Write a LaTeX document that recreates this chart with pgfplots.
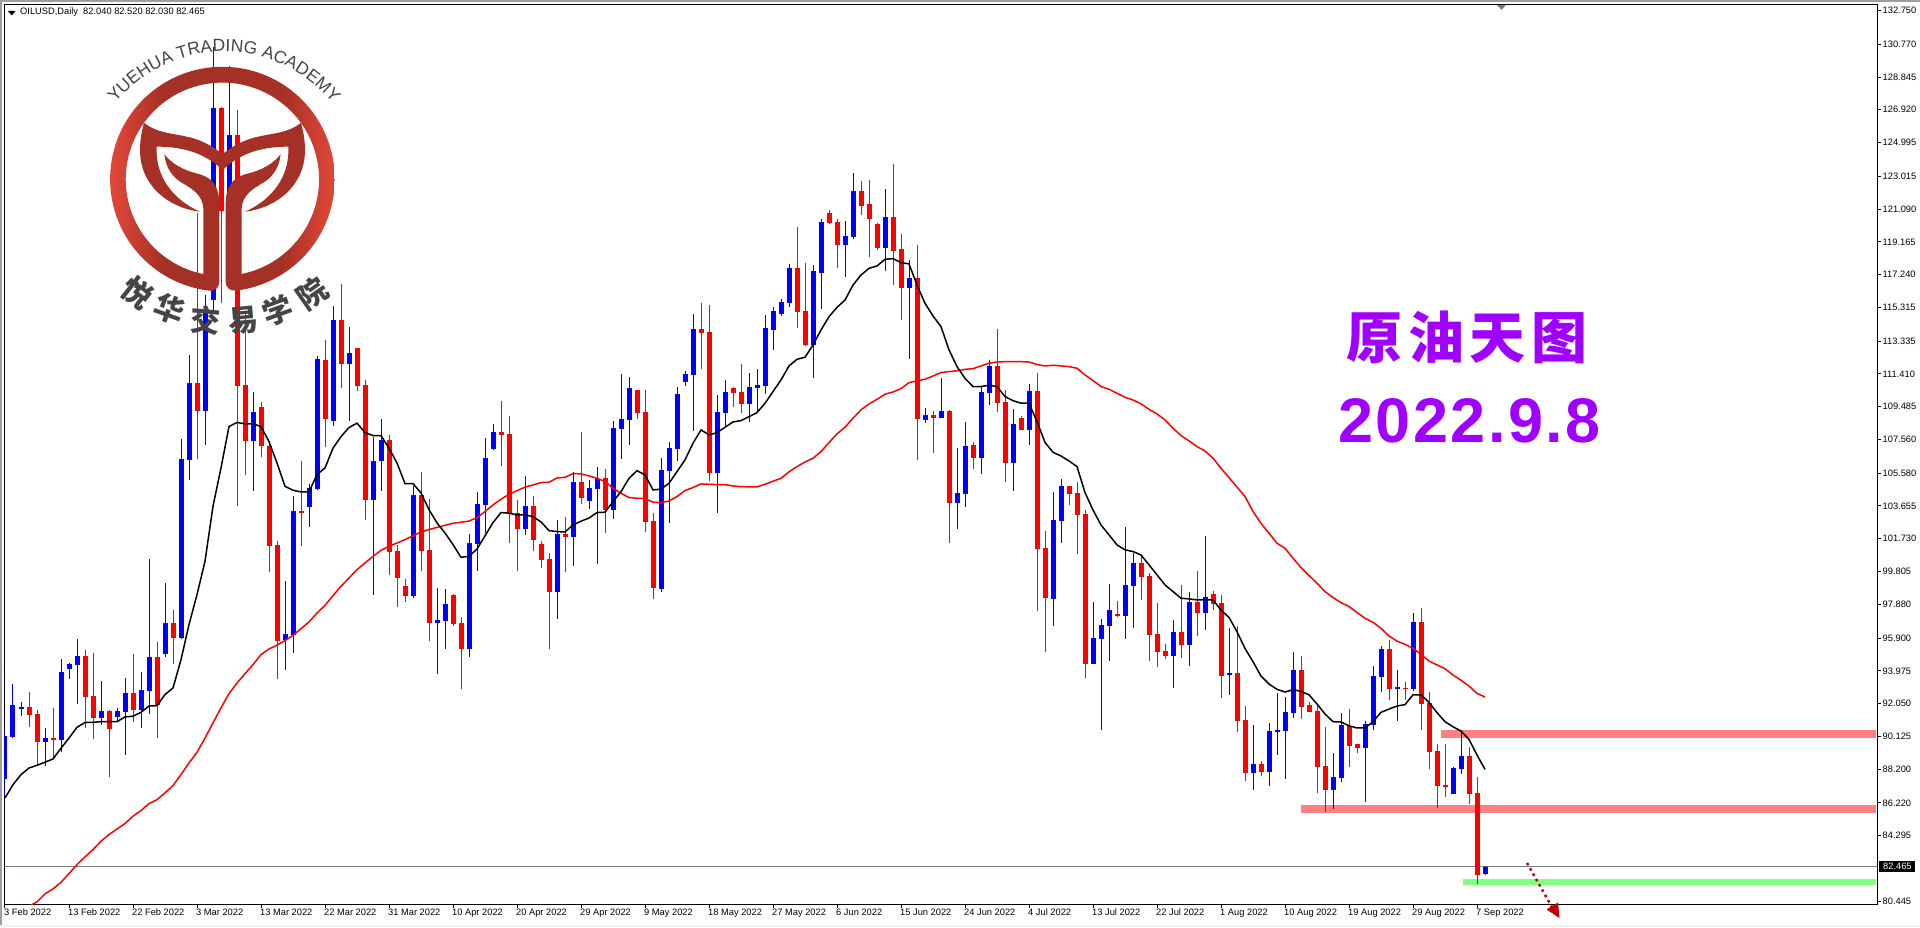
\documentclass[border=0pt]{standalone}
\usepackage{fontspec}
\usepackage{pgfplots}
\usepackage{pgfplotstable}
\pgfplotsset{compat=1.18}
\usetikzlibrary{decorations.text}
\setmainfont{Liberation Sans}
\newfontfamily\cjk{Noto Sans CJK SC}
\definecolor{candleblue}{HTML}{0000FF}
\definecolor{candlered}{HTML}{FF0000}
\definecolor{zonepink}{HTML}{FF8080}
\definecolor{zonegreen}{HTML}{80FF80}
\definecolor{priceline}{HTML}{708090}
\definecolor{titlepurple}{HTML}{A000FF}
\definecolor{logodark}{HTML}{A53025}
\definecolor{logolight}{HTML}{E2483A}
\definecolor{logotext}{HTML}{454545}
\definecolor{arrowred}{HTML}{C00000}
\pgfdeclarehorizontalshading{logoring}{100bp}{color(0bp)=(logolight); color(25bp)=(logolight); color(37bp)=(logodark); color(63bp)=(logodark); color(75bp)=(logolight); color(100bp)=(logolight)}

% x low bottom-of-body top-of-body high
\pgfplotstableread{
x l b t h
0 86.61 87.65 90.13 90.43
1 90.03 90.09 91.95 93.21
2 91.35 91.74 91.84 92.15
5 88.41 89.82 90.02 90.62
7 89.19 89.94 93.89 94.67
8 93.50 94.11 94.38 94.44
9 92.03 94.34 94.83 95.85
12 90.82 91.23 91.60 93.38
14 91.01 91.27 91.60 91.80
15 89.06 91.58 92.66 93.56
17 90.62 91.70 92.83 93.91
18 91.46 92.81 94.77 100.54
20 94.81 94.99 96.77 99.13
22 95.85 95.91 106.40 107.60
23 105.20 106.36 110.86 112.53
25 107.24 109.26 115.03 116.05
26 115.07 115.76 127.01 130.63
28 120.65 121.00 125.44 129.50
31 104.52 107.50 109.16 110.32
35 94.05 95.79 96.12 99.25
36 95.03 96.10 103.36 104.24
38 102.44 103.62 104.69 104.95
39 104.60 104.67 112.29 112.47
41 108.38 108.67 114.58 115.40
43 108.67 112.02 112.63 114.19
46 98.45 104.03 106.27 107.73
47 104.56 106.27 107.54 108.75
51 98.27 98.37 104.28 104.81
54 93.81 96.81 96.94 98.84
55 95.28 96.92 97.88 98.78
58 94.81 95.28 101.46 102.01
59 99.86 101.44 103.75 104.46
60 102.09 103.74 106.46 107.63
61 106.95 107.01 107.98 108.47
65 101.96 102.33 103.66 105.42
69 97.03 98.63 102.02 102.84
71 100.14 101.86 105.05 105.67
73 103.48 103.97 104.72 105.19
74 100.25 104.66 105.22 105.95
76 102.90 103.42 108.24 108.65
77 106.42 108.20 108.77 111.41
78 107.24 108.71 110.59 111.23
82 98.63 98.81 105.77 106.46
83 102.68 105.73 107.04 107.40
84 106.32 107.03 110.23 110.63
85 110.70 110.94 111.41 111.59
86 108.06 111.37 114.05 114.93
89 103.27 105.62 109.18 110.18
90 108.32 109.14 110.35 111.06
93 108.61 109.65 110.65 111.47
94 109.10 110.61 110.76 111.70
95 110.22 110.70 114.11 114.87
96 112.82 113.99 115.09 115.34
97 114.81 114.93 115.64 115.81
98 115.34 115.58 117.63 117.87
101 111.17 113.11 117.46 117.81
102 115.23 117.34 120.33 120.51
105 117.10 118.98 119.51 120.39
106 119.33 119.45 122.15 123.21
110 117.46 118.81 120.63 122.27
113 112.29 116.46 117.05 118.10
115 108.53 108.71 109.00 109.41
117 108.83 108.83 109.24 111.17
119 102.31 103.84 104.42 107.06
120 103.60 104.36 107.18 108.59
122 105.54 106.48 110.35 110.70
123 109.59 110.29 111.88 112.23
126 104.54 106.18 108.47 109.35
128 107.24 108.12 110.41 110.82
131 96.58 98.20 102.84 104.48
132 101.49 102.78 104.83 105.24
136 94.38 94.38 95.91 98.02
137 90.50 95.85 96.67 97.02
138 94.56 96.61 97.55 99.08
140 95.85 97.20 99.02 102.42
141 96.49 98.96 100.31 100.90
146 92.97 94.85 96.26 96.96
148 94.26 95.50 98.02 98.61
150 96.37 97.39 98.31 101.90
153 92.55 93.73 93.83 96.49
156 86.98 87.97 88.50 90.79
158 87.21 88.03 90.44 90.91
159 89.03 90.38 90.50 92.67
160 87.62 90.44 91.56 92.44
161 91.20 91.50 94.02 95.08
166 85.86 86.98 87.74 89.15
167 87.45 87.68 90.79 91.50
170 86.27 89.44 90.85 91.03
171 90.50 90.79 93.67 94.26
172 92.73 93.61 95.25 95.43
174 91.03 92.91 93.02 94.02
176 92.79 92.91 96.84 97.37
181 86.74 86.74 88.27 88.33
182 87.92 88.21 88.97 90.50
185 82.03 82.04 82.465 82.52
}\upbars

\pgfplotstableread{
x l b t h
3 90.68 91.40 91.84 92.74
4 88.47 89.82 91.44 91.66
6 88.86 89.92 90.02 91.80
10 90.62 92.46 94.83 95.20
11 89.98 91.21 92.48 95.03
13 87.73 90.58 91.60 91.66
16 90.99 91.70 92.66 94.97
19 90.03 91.95 94.77 95.67
21 94.38 95.93 96.77 97.55
24 106.42 109.26 110.86 120.85
27 115.56 121.00 127.01 127.11
29 103.64 110.73 125.44 126.91
30 105.50 107.50 110.77 114.97
32 106.52 107.15 109.49 109.79
33 99.78 101.33 107.20 107.24
34 93.52 95.75 101.35 101.58
37 101.33 103.24 103.34 106.29
40 107.11 108.75 112.23 113.41
42 110.61 112.02 114.58 116.70
44 110.43 110.73 112.92 112.96
45 102.85 104.03 110.77 111.06
48 99.62 100.97 107.54 107.83
49 97.75 99.45 100.99 101.39
50 98.02 98.39 98.94 99.37
52 99.86 101.03 104.28 105.65
53 95.75 96.81 101.05 104.07
56 96.59 96.73 98.43 98.49
57 92.91 95.28 96.77 97.14
62 106.01 107.83 107.98 109.80
63 101.51 103.23 107.87 108.94
64 99.86 102.33 103.23 104.01
66 101.02 101.68 103.66 104.25
67 100.04 100.51 101.41 101.60
68 95.26 98.63 100.53 100.90
70 99.80 101.86 102.02 102.99
72 103.78 104.13 105.05 108.00
75 102.09 103.42 105.28 105.83
79 108.77 109.14 110.49 110.49
80 102.13 102.74 109.18 110.47
81 98.20 98.86 102.76 103.23
87 111.70 113.82 114.05 115.58
88 105.15 105.62 113.87 115.46
91 109.47 110.31 110.59 110.65
92 109.12 109.65 110.35 112.00
99 114.11 115.05 117.63 120.04
100 113.05 113.11 115.09 117.93
103 120.22 120.27 120.86 121.04
104 117.63 118.98 120.33 120.51
107 120.74 121.27 122.15 122.74
108 118.28 120.51 121.39 122.80
109 118.69 118.81 120.22 120.27
111 116.63 118.63 120.63 123.74
112 114.58 116.46 118.75 119.63
114 106.36 108.77 117.05 118.98
116 106.77 108.83 109.00 109.24
118 101.49 103.84 109.24 109.30
121 105.83 106.48 107.24 107.42
124 109.18 109.71 111.88 114.05
125 105.07 106.18 109.77 110.47
127 108.12 108.12 108.83 108.94
129 97.46 101.13 110.41 111.47
130 95.09 98.26 101.19 102.19
133 103.72 104.36 104.83 104.83
134 100.84 103.13 104.42 105.07
135 93.56 94.38 103.19 103.42
139 97.14 97.20 97.32 98.08
142 98.14 99.49 100.31 100.72
143 94.56 96.08 99.55 99.72
144 94.20 95.08 96.14 97.96
145 94.67 94.85 95.14 95.55
147 94.73 95.50 96.26 99.02
149 96.02 97.37 98.02 99.84
151 97.54 97.90 98.48 98.66
152 92.38 93.67 97.96 98.43
154 90.38 91.03 93.85 96.61
155 87.51 87.97 91.09 91.91
157 87.80 88.03 88.50 88.68
162 91.15 91.85 94.02 94.84
163 91.56 91.56 91.97 92.14
164 86.80 88.33 91.61 92.03
165 85.69 86.98 88.39 90.68
168 88.33 89.56 90.73 91.73
169 89.15 89.44 89.68 89.68
173 92.26 92.91 95.25 95.78
175 92.26 92.93 92.97 93.32
177 90.50 92.03 96.84 97.66
178 88.21 89.21 92.08 92.73
179 85.92 87.21 89.27 89.68
180 86.57 87.15 87.27 89.68
183 86.15 86.74 88.97 89.50
184 81.46 81.99 86.80 87.74
}\downbars

\pgfplotsset{
  wick/.style={draw=none, mark=none, forget plot,
    error bars/y dir=both, error bars/y explicit, error bars/error mark=none,
    error bars/error bar style={draw=#1, line width=1pt, line cap=butt}},
  body/.style={draw=none, mark=none, forget plot,
    error bars/y dir=plus, error bars/y explicit, error bars/error mark=none,
    error bars/error bar style={draw=#1, line width=5pt, line cap=butt}},
}

\begin{document}
\begin{tikzpicture}[x=1pt,y=1pt]
\useasboundingbox (0,0) rectangle (1920,927);
\fill[white] (0,0) rectangle (1920,927);
\fill[black!38] (0,925) rectangle (1920,927);
\fill[black!38] (0,0) rectangle (1.5,927);
\fill[black!6] (0,0) rectangle (1920,2.5);

\begin{axis}[
  at={(4.5pt,23pt)}, anchor=south west,
  scale only axis, width=1873pt, height=899.5pt,
  xmin=-0.0625, xmax=234.0625, ymin=80.284, ymax=133.103,
  axis line style={black, line width=1pt},
  tick align=outside, major tick length=3.5pt,
  tick style={black, line width=1pt},
  xtick pos=lower, ytick pos=right, yticklabel pos=right,
  ticklabel style={font=\fontsize{9.3}{11}\selectfont},
  xtick={0,8,16,24,32,40,48,56,64,72,80,88,96,104,112,120,128,136,144,152,160,168,176,184},
  xticklabels={3 Feb 2022,13 Feb 2022,22 Feb 2022,3 Mar 2022,13 Mar 2022,22 Mar 2022,31 Mar 2022,10 Apr 2022,20 Apr 2022,29 Apr 2022,9 May 2022,18 May 2022,27 May 2022,6 Jun 2022,15 Jun 2022,24 Jun 2022,4 Jul 2022,13 Jul 2022,22 Jul 2022,1 Aug 2022,10 Aug 2022,19 Aug 2022,29 Aug 2022,7 Sep 2022},
  xticklabel style={anchor=north west, inner xsep=0pt, inner ysep=0pt, xshift=-1pt, yshift=-1pt},
  ytick={132.750,130.770,128.845,126.920,124.995,123.015,121.090,119.165,117.240,115.315,113.335,111.410,109.485,107.560,105.580,103.655,101.730,99.805,97.880,95.900,93.975,92.050,90.125,88.200,86.220,84.295,80.445},
  yticklabels={132.750,130.770,128.845,126.920,124.995,123.015,121.090,119.165,117.240,115.315,113.335,111.410,109.485,107.560,105.580,103.655,101.730,99.805,97.880,95.900,93.975,92.050,90.125,88.200,86.220,84.295,80.445},
  yticklabel style={anchor=west, inner xsep=0pt, xshift=1.5pt},
]
% support and resistance zones
\addplot[fill=zonepink, draw=none, forget plot] coordinates {(179.5,90.05) (233.875,90.05) (233.875,90.50) (179.5,90.50)} -- cycle;
\addplot[fill=zonepink, draw=none, forget plot] coordinates {(162,85.65) (233.875,85.65) (233.875,86.10) (162,86.10)} -- cycle;
\addplot[fill=zonegreen, draw=none, forget plot] coordinates {(182.25,81.40) (233.875,81.40) (233.875,81.75) (182.25,81.75)} -- cycle;
% last price
\addplot[priceline, line width=1pt, forget plot] coordinates {(-0.0625,82.465) (234.0625,82.465)};

% candles
\addplot[wick=candleblue] table[x=x, y=b, y error plus expr=\thisrow{h}-\thisrow{b}, y error minus expr=\thisrow{b}-\thisrow{l}] {\upbars};
\addplot[wick=candlered] table[x=x, y=b, y error plus expr=\thisrow{h}-\thisrow{b}, y error minus expr=\thisrow{b}-\thisrow{l}] {\downbars};
\addplot[body=candleblue] table[x=x, y=b, y error plus expr=\thisrow{t}-\thisrow{b}] {\upbars};
\addplot[body=candlered] table[x=x, y=b, y error plus expr=\thisrow{t}-\thisrow{b}] {\downbars};

% slow average
\addplot[candlered, line width=1.5pt, forget plot] coordinates {
(0,79.08)(1,79.47)(2,79.86)(3,80.15)(4,80.41)(5,80.88)(6,81.17)(7,81.56)(8,82.07)(9,82.60)
(10,83.05)(11,83.48)(12,83.97)(13,84.36)(14,84.69)(15,85.01)(16,85.44)(17,85.77)(18,86.18)(19,86.41)
(20,86.81)(21,87.24)(22,87.88)(23,88.57)(24,89.19)(25,90.03)(26,90.92)(27,91.80)(28,92.64)(29,93.26)
(30,93.81)(31,94.34)(32,94.93)(33,95.26)(34,95.48)(35,95.75)(36,96.06)(37,96.45)(38,96.85)(39,97.37)
(40,97.82)(41,98.39)(42,98.94)(43,99.43)(44,99.92)(45,100.31)(46,100.70)(47,101.05)(48,101.29)(49,101.48)
(50,101.68)(51,101.91)(52,102.13)(53,102.27)(54,102.40)(55,102.52)(56,102.64)(57,102.70)(58,102.77)(59,102.97)
(60,103.33)(61,103.72)(62,104.05)(63,104.34)(64,104.56)(65,104.76)(66,104.89)(67,105.03)(68,105.05)(69,105.30)
(70,105.34)(71,105.56)(72,105.54)(73,105.42)(74,105.28)(75,105.09)(76,104.70)(77,104.40)(78,104.15)(79,104.11)
(80,104.09)(81,103.88)(82,103.85)(83,103.95)(84,104.21)(85,104.56)(86,104.74)(87,104.95)(88,104.93)(89,104.91)
(90,104.91)(91,104.83)(92,104.79)(93,104.78)(94,104.78)(95,104.93)(96,105.11)(97,105.28)(98,105.66)(99,105.97)
(100,106.24)(101,106.46)(102,106.85)(103,107.38)(104,107.89)(105,108.28)(106,108.81)(107,109.30)(108,109.65)(109,109.92)
(110,110.22)(111,110.35)(112,110.55)(113,110.90)(114,111.00)(115,111.10)(116,111.29)(117,111.49)(118,111.55)(119,111.59)
(120,111.68)(121,111.72)(122,111.88)(123,112.04)(124,112.11)(125,112.13)(126,112.13)(127,112.13)(128,112.11)(129,111.96)
(130,111.88)(131,111.92)(132,111.88)(133,111.84)(134,111.74)(135,111.35)(136,111.02)(137,110.67)(138,110.51)(139,110.27)
(140,110.04)(141,109.88)(142,109.65)(143,109.33)(144,109.06)(145,108.71)(146,108.22)(147,107.79)(148,107.48)(149,107.14)
(150,106.89)(151,106.46)(152,105.87)(153,105.32)(154,104.76)(155,104.21)(156,103.33)(157,102.64)(158,102.05)(159,101.47)
(160,101.17)(161,100.59)(162,100.04)(163,99.57)(164,99.12)(165,98.63)(166,98.28)(167,97.98)(168,97.75)(169,97.40)
(170,97.06)(171,96.82)(172,96.47)(173,96.02)(174,95.72)(175,95.53)(176,95.29)(177,94.94)(178,94.55)(179,94.32)
(180,94.10)(181,93.73)(182,93.42)(183,93.08)(184,92.65)(185,92.44)
};
% fast average
\addplot[black, line width=1.5pt, forget plot] coordinates {
(0,86.51)(1,87.29)(2,87.88)(3,88.27)(4,88.43)(5,88.61)(6,88.80)(7,89.43)(8,90.03)(9,90.66)
(10,90.94)(11,90.95)(12,90.99)(13,90.99)(14,90.99)(15,91.27)(16,91.31)(17,91.54)(18,91.91)(19,91.93)
(20,92.58)(21,92.97)(22,94.63)(23,96.69)(24,98.45)(25,100.41)(26,103.64)(27,105.89)(28,108.32)(29,108.56)
(30,108.48)(31,108.48)(32,108.32)(33,107.44)(34,106.18)(35,104.81)(36,104.58)(37,104.48)(38,104.48)(39,105.50)
(40,105.89)(41,107.05)(42,107.73)(43,108.26)(44,108.52)(45,107.97)(46,107.79)(47,107.79)(48,107.05)(49,106.18)
(50,104.97)(51,104.97)(52,104.42)(53,103.44)(54,102.66)(55,102.07)(56,101.39)(57,100.64)(58,100.70)(59,101.13)
(60,101.90)(61,102.68)(62,103.27)(63,103.23)(64,103.13)(65,103.13)(66,103.03)(67,102.72)(68,102.21)(69,102.15)
(70,102.13)(71,102.54)(72,102.76)(73,102.95)(74,103.27)(75,103.29)(76,103.91)(77,104.50)(78,105.28)(79,105.73)
(80,105.48)(81,104.60)(82,104.64)(83,104.99)(84,105.67)(85,106.36)(86,107.34)(87,108.12)(88,107.83)(89,107.96)
(90,108.28)(91,108.59)(92,108.67)(93,108.90)(94,109.14)(95,109.69)(96,110.37)(97,111.06)(98,111.88)(99,112.27)
(100,112.39)(101,113.11)(102,113.99)(103,114.77)(104,115.32)(105,115.75)(106,116.63)(107,117.22)(108,117.61)(109,117.75)
(110,118.14)(111,118.18)(112,117.95)(113,117.87)(114,116.63)(115,115.56)(116,114.81)(117,114.19)(118,112.82)(119,111.84)
(120,111.15)(121,110.67)(122,110.67)(123,110.74)(124,110.67)(125,110.08)(126,109.84)(127,109.69)(128,109.69)(129,108.61)
(130,107.38)(131,106.81)(132,106.59)(133,106.30)(134,105.97)(135,104.44)(136,103.42)(137,102.54)(138,101.96)(139,101.37)
(140,101.08)(141,100.98)(142,100.78)(143,100.20)(144,99.61)(145,99.02)(146,98.63)(147,98.24)(148,98.20)(149,98.14)
(150,98.14)(151,98.14)(152,97.54)(153,97.11)(154,96.27)(155,95.29)(156,94.51)(157,93.67)(158,93.20)(159,92.89)
(160,92.73)(161,92.87)(162,92.77)(163,92.57)(164,92.03)(165,91.44)(166,90.99)(167,90.97)(168,90.75)(169,90.62)
(170,90.62)(171,90.99)(172,91.54)(173,91.73)(174,91.91)(175,91.99)(176,92.57)(177,92.57)(178,92.12)(179,91.52)
(180,90.99)(181,90.69)(182,90.44)(183,89.95)(184,89.03)(185,88.19)
};
\end{axis}

% header
\fill (8,916) -- (15.5,916) -- (11.75,911.5) -- cycle;
\node[anchor=west, inner sep=0pt, font=\fontsize{9.3}{11}\selectfont] at (20,914.5) {OILUSD,Daily\ \ 82.040 82.520 82.030 82.465};
% price tag
\fill[black] (1879,55.3) rectangle (1915,65.7);
\node[anchor=west, inner sep=0pt, text=white, font=\fontsize{9.3}{11}\selectfont] at (1883,60.5) {82.465};
% marker below the top edge
\fill[priceline] (1497,922) -- (1506,922) -- (1501.5,917) -- cycle;

% dotted arrow
\draw[arrowred, line width=2.5pt, dash pattern=on 2.5pt off 3.6pt] (1527,64) -- (1553,18);
\fill[arrowred] (1546.5,17.5) -- (1558,24.5) -- (1559.5,9) -- cycle;

% titles
\node[anchor=center, inner sep=0pt, text=titlepurple, font=\cjk\bfseries\fontsize{56}{60}\selectfont] at (1467,590) {原\hspace{6pt}油\hspace{6pt}天\hspace{6pt}图};
\node[anchor=base west, inner sep=0pt, text=titlepurple, font=\bfseries\fontsize{63}{66}\selectfont] at (1338,484) {2\hspace{2.5pt}0\hspace{2.5pt}2\hspace{2.5pt}2\hspace{2.5pt}.\hspace{2.5pt}9\hspace{2.5pt}.\hspace{2.5pt}8};

% academy logo, coordinates in thirds of a pixel
\begin{scope}[x=0.33333pt, y=0.33333pt, shift={(0pt,927pt)}]
\begin{scope}
\clip
  (610,-822) -- (610,-625) .. controls (608,-585) and (575,-565) .. (545,-548)
  .. controls (515,-530) and (497,-500) .. (493,-463)
  .. controls (515,-490) and (545,-510) .. (600,-523)
  .. controls (640,-535) and (658,-565) .. (658,-610)
  -- (658,-845) .. controls (658,-862) and (645,-875) .. (628,-872)
  arc[start angle=263.3, end angle=-82.7, radius=337]
  .. controls (690,-875) and (677,-862) .. (677,-845)
  -- (677,-610) .. controls (677,-565) and (695,-535) .. (735,-523)
  .. controls (790,-510) and (820,-490) .. (842,-463)
  .. controls (838,-500) and (820,-530) .. (790,-548)
  .. controls (760,-565) and (727,-585) .. (725,-625)
  -- (725,-822)
  arc[start angle=-78.5, end angle=258.6, radius=290] -- cycle;
\shade[shading=logoring] (330,-880) rectangle (1005,-200);
\end{scope}
\fill[logodark]
  (432,-368) .. controls (470,-400) and (520,-400) .. (560,-410)
  .. controls (610,-420) and (645,-445) .. (668,-462)
  .. controls (690,-445) and (725,-420) .. (775,-410)
  .. controls (815,-400) and (865,-400) .. (903,-368)
  .. controls (910,-395) and (915,-420) .. (915,-450)
  .. controls (915,-560) and (825,-625) .. (735,-635)
  .. controls (815,-600) and (870,-530) .. (865,-440)
  .. controls (775,-440) and (715,-465) .. (668,-510)
  .. controls (620,-465) and (560,-440) .. (470,-440)
  .. controls (465,-530) and (520,-600) .. (600,-635)
  .. controls (510,-625) and (420,-560) .. (420,-450)
  .. controls (420,-420) and (425,-395) .. (432,-368) -- cycle;
\path[decorate, decoration={text along path, text align=center,
    text={|\fontsize{17.5}{20}\selectfont\color{logotext}|YUEHUA TRADING ACADEMY}}]
  (672,-577) ++(140.8:422) arc[start angle=140.8, end angle=39.2, radius=422];
\foreach \ch/\cx/\cy/\ang in {悦/412/878/-38, 华/510/928/-20, 交/617/962/-5, 易/730/962/5, 学/833/930/20, 院/935/880/35}
  \node[rotate=\ang, inner sep=0pt, text=logotext, font=\cjk\bfseries\fontsize{30}{32}\selectfont] at (\cx,-\cy) {\ch};
\end{scope}
\end{tikzpicture}
\end{document}
